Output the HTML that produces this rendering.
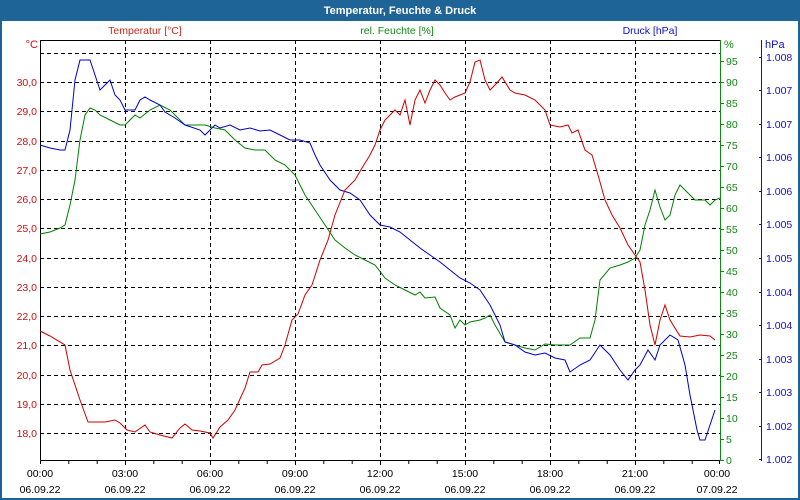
<!DOCTYPE html>
<html><head><meta charset="utf-8"><style>
html,body{margin:0;padding:0;background:#fff;}
svg{display:block;font-family:"Liberation Sans","DejaVu Sans",sans-serif;}
</style></head><body>
<svg width="800" height="500" viewBox="0 0 800 500" xmlns="http://www.w3.org/2000/svg">
<rect x="0" y="0" width="800" height="500" fill="#fff"/>
<rect x="0" y="0" width="800" height="21" fill="#1f6497"/>
<rect x="0" y="0" width="2" height="500" fill="#1f6497"/>
<rect x="798" y="0" width="2" height="500" fill="#1f6497"/>
<rect x="0" y="498" width="800" height="2" fill="#1f6497"/>
<text x="400" y="14" fill="#fff" font-size="11" font-weight="bold" text-anchor="middle">Temperatur, Feuchte &amp; Druck</text>

<text x="145" y="34" fill="#c8281e" font-size="10.5" text-anchor="middle">Temperatur [°C]</text>
<text x="397" y="34" fill="#118811" font-size="10.5" text-anchor="middle">rel. Feuchte [%]</text>
<text x="650" y="34" fill="#1010cc" font-size="10.5" text-anchor="middle">Druck [hPa]</text>
<text x="38" y="48" fill="#cc1010" font-size="11" text-anchor="end">°C</text>
<text x="724" y="48" fill="#118811" font-size="11">%</text>
<text x="765" y="48" fill="#1010cc" font-size="11">hPa</text>

<g stroke="#000" stroke-width="1" stroke-dasharray="4,3">
<line x1="40" y1="53.5" x2="720" y2="53.5"/>
<line x1="40" y1="82.5" x2="720" y2="82.5"/>
<line x1="40" y1="111.5" x2="720" y2="111.5"/>
<line x1="40" y1="141.5" x2="720" y2="141.5"/>
<line x1="40" y1="170.5" x2="720" y2="170.5"/>
<line x1="40" y1="199.5" x2="720" y2="199.5"/>
<line x1="40" y1="228.5" x2="720" y2="228.5"/>
<line x1="40" y1="258.5" x2="720" y2="258.5"/>
<line x1="40" y1="287.5" x2="720" y2="287.5"/>
<line x1="40" y1="316.5" x2="720" y2="316.5"/>
<line x1="40" y1="345.5" x2="720" y2="345.5"/>
<line x1="40" y1="375.5" x2="720" y2="375.5"/>
<line x1="40" y1="404.5" x2="720" y2="404.5"/>
<line x1="40" y1="433.5" x2="720" y2="433.5"/>
<line x1="125.5" y1="40" x2="125.5" y2="460"/>
<line x1="210.5" y1="40" x2="210.5" y2="460"/>
<line x1="295.5" y1="40" x2="295.5" y2="460"/>
<line x1="380.5" y1="40" x2="380.5" y2="460"/>
<line x1="465.5" y1="40" x2="465.5" y2="460"/>
<line x1="550.5" y1="40" x2="550.5" y2="460"/>
<line x1="635.5" y1="40" x2="635.5" y2="460"/>
</g>
<g stroke="#000" stroke-width="1">
<line x1="40" y1="40.5" x2="720" y2="40.5"/>
<line x1="40.5" y1="40" x2="40.5" y2="461"/>
<line x1="40" y1="460.5" x2="720" y2="460.5"/>
</g>
<line x1="720.5" y1="40" x2="720.5" y2="461" stroke="#118811"/>
<line x1="761.5" y1="40" x2="761.5" y2="461" stroke="#1010cc"/>
<g stroke="#000">
<path d="M40.5 460v4M68.8 460v4M97.2 460v4M125.5 460v5M153.8 460v4M182.2 460v4M210.5 460v5M238.8 460v4M267.2 460v4M295.5 460v5M323.8 460v4M352.2 460v4M380.5 460v5M408.8 460v4M437.2 460v4M465.5 460v5M493.8 460v4M522.2 460v4M550.5 460v5M578.8 460v4M607.2 460v4M635.5 460v5M663.8 460v4M692.2 460v4M719.5 460v4"/>
</g>
<g font-size="10.5" fill="#000" text-anchor="middle">
<text x="40" y="477">00:00</text><text x="40" y="493">06.09.22</text>
<text x="125" y="477">03:00</text><text x="125" y="493">06.09.22</text>
<text x="210" y="477">06:00</text><text x="210" y="493">06.09.22</text>
<text x="295" y="477">09:00</text><text x="295" y="493">06.09.22</text>
<text x="380" y="477">12:00</text><text x="380" y="493">06.09.22</text>
<text x="465" y="477">15:00</text><text x="465" y="493">06.09.22</text>
<text x="550" y="477">18:00</text><text x="550" y="493">06.09.22</text>
<text x="635" y="477">21:00</text><text x="635" y="493">06.09.22</text>
<text x="717" y="477">00:00</text><text x="717" y="493">07.09.22</text>
</g>
<g font-size="10.5" fill="#cc1010" text-anchor="end">
<text x="37" y="86">30,0</text><text x="37" y="115">29,0</text><text x="37" y="145">28,0</text>
<text x="37" y="174">27,0</text><text x="37" y="203">26,0</text><text x="37" y="232">25,0</text>
<text x="37" y="262">24,0</text><text x="37" y="291">23,0</text><text x="37" y="320">22,0</text>
<text x="37" y="349">21,0</text><text x="37" y="379">20,0</text><text x="37" y="408">19,0</text>
<text x="37" y="437">18,0</text>
</g>
<g stroke="#118811">
<path d="M720 460.5h4M720 439.5h4M720 418.5h4M720 397.5h4M720 376.5h4M720 355.5h4M720 334.5h4M720 313.5h4M720 292.5h4M720 271.5h4M720 250.5h4M720 229.5h4M720 208.5h4M720 187.5h4M720 166.5h4M720 145.5h4M720 124.5h4M720 103.5h4M720 82.5h4M720 61.5h4"/>
</g>
<g font-size="10.5" fill="#118811">
<text x="726" y="464">0</text><text x="726" y="443">5</text><text x="726" y="422">10</text>
<text x="726" y="401">15</text><text x="726" y="380">20</text><text x="726" y="359">25</text>
<text x="726" y="338">30</text><text x="726" y="317">35</text><text x="726" y="296">40</text>
<text x="726" y="275">45</text><text x="726" y="254">50</text><text x="726" y="233">55</text>
<text x="726" y="212">60</text><text x="726" y="191">65</text><text x="726" y="170">70</text>
<text x="726" y="149">75</text><text x="726" y="128">80</text><text x="726" y="107">85</text>
<text x="726" y="86">90</text><text x="726" y="65">95</text>
</g>
<g stroke="#1010cc">
<path d="M759 57.5h3M759 90.5h3M759 124.5h3M759 157.5h3M759 191.5h3M759 224.5h3M759 258.5h3M759 292.5h3M759 325.5h3M759 359.5h3M759 392.5h3M759 426.5h3M759 459.5h3"/>
</g>
<g font-size="10.5" fill="#1010cc">
<text x="766" y="61">1.008</text><text x="766" y="94">1.007</text><text x="766" y="128">1.007</text>
<text x="766" y="161">1.006</text><text x="766" y="195">1.006</text><text x="766" y="228">1.005</text>
<text x="766" y="262">1.005</text><text x="766" y="296">1.004</text><text x="766" y="329">1.004</text>
<text x="766" y="363">1.003</text><text x="766" y="396">1.003</text><text x="766" y="430">1.002</text>
<text x="766" y="463">1.002</text>
</g>

<polyline fill="none" stroke="#008000" stroke-width="1" points="40,234 50,232 60,228 65,225 70,205 75,180 80,140 85,115 90,108 95,110 100,115 110,120 120,125 125,125 135,115 140,118 150,110 160,105 170,110 175,115 185,125 195,125 205,125 215,128 225,130 235,140 245,148 255,150 265,150 275,160 285,165 295,175 305,195 315,210 325,225 335,240 345,248 355,255 365,260 375,265 385,278 395,285 405,290 415,295 420,292 425,298 435,297 440,308 450,315 455,328 460,320 465,325 470,322 480,320 485,318 490,315 495,325 505,342 515,345 525,348 535,350 545,344 555,345 570,345 580,338 590,338 595,320 600,280 610,268 620,265 628,262 635,258 640,250 645,225 650,210 655,190 660,207 665,220 670,215 675,195 680,185 685,190 695,200 705,200 710,205 715,200 720,198"/>
<polyline fill="none" stroke="#0000cc" stroke-width="1" points="40,145 50,148 60,150 65,150 70,130 75,80 80,60 90,60 95,75 100,90 105,85 110,80 115,95 120,100 125,110 135,110 140,100 145,97 150,100 160,105 165,112 175,118 185,125 200,130 205,135 215,125 220,128 230,125 240,130 250,128 260,131 270,130 280,135 290,140 300,140 310,143 315,155 320,165 330,180 340,190 350,193 360,200 370,215 380,225 390,227 400,232 410,240 420,248 430,255 440,262 450,270 460,278 470,283 480,290 490,305 500,325 505,342 515,345 525,352 535,355 545,353 555,358 565,360 570,372 580,365 590,360 600,345 610,355 620,370 628,380 635,370 640,365 648,350 655,360 660,345 670,335 678,340 685,365 690,395 697,430 700,440 705,440 710,425 715,410"/>
<polyline fill="none" stroke="#cc0000" stroke-width="1" points="40,331 50,336 65,345 70,370 80,400 88,422 105,422 115,420 120,423 127,430 135,432 145,425 150,432 160,435 172,438 180,428 185,424 192,430 200,431 210,433 213,438 220,427 228,420 235,410 245,388 250,372 258,372 262,365 270,364 280,358 285,345 292,320 298,314 305,295 312,285 320,260 328,240 335,215 345,190 355,180 362,168 370,155 375,145 380,130 385,120 395,110 400,115 405,100 410,125 415,100 420,90 425,103 430,90 435,80 440,85 445,93 450,100 455,97 460,95 465,93 470,82 475,62 480,60 485,80 490,90 495,85 502,77 510,90 515,93 525,95 535,100 545,110 550,125 555,126 560,127 568,125 572,133 578,130 585,150 592,155 598,175 605,200 612,215 620,228 628,245 635,255 640,262 645,290 650,325 655,345 660,320 665,305 670,320 680,336 690,337 700,335 710,336 715,340"/>
</svg>
</body></html>
